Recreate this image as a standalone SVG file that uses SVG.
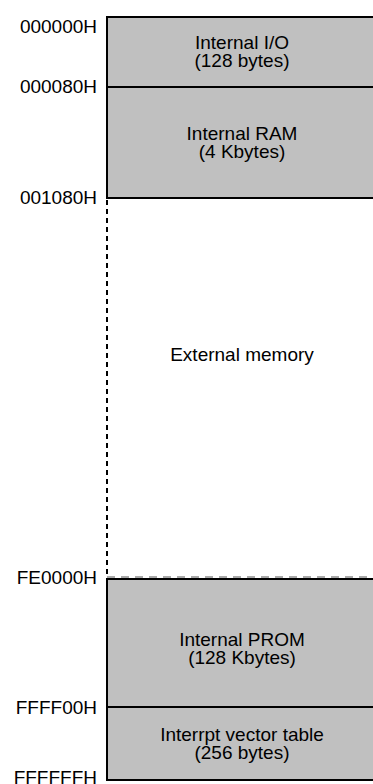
<svg xmlns="http://www.w3.org/2000/svg" width="373" height="784" viewBox="0 0 373 784">
<style>
.blk{fill:#c0c0c0;stroke:#000;stroke-width:2}
.t{font-family:"Liberation Sans",Arial,sans-serif;font-size:19px;fill:#000}
.c{text-anchor:middle}
.a{text-anchor:end}
.dash{stroke:#000;stroke-width:2;stroke-dasharray:5 4;fill:none}
</style>
<rect width="373" height="784" fill="#fff"/>
<g id="internal-io">
<rect class="blk" x="107" y="17" width="300" height="70"/>
<text class="t c" x="242" y="49">Internal I/O</text>
<text class="t c" x="242" y="67">(128 bytes)</text>
</g>
<g id="internal-ram">
<rect class="blk" x="107" y="87" width="300" height="111"/>
<text class="t c" x="242" y="140">Internal RAM</text>
<text class="t c" x="242" y="158">(4 Kbytes)</text>
</g>
<g id="external-memory">
<line class="dash" x1="107" y1="200" x2="107" y2="578"/>
<line x1="107" y1="577" x2="373" y2="577" stroke="#555" stroke-width="1" stroke-dasharray="8 6"/>
<text class="t c" x="242" y="361">External memory</text>
</g>
<g id="internal-prom">
<rect class="blk" x="107" y="579" width="300" height="128"/>
<text class="t c" x="242" y="646">Internal PROM</text>
<text class="t c" x="242" y="664">(128 Kbytes)</text>
</g>
<g id="vector-table">
<rect class="blk" x="107" y="707" width="300" height="73"/>
<text class="t c" x="242" y="741">Interrpt vector table</text>
<text class="t c" x="242" y="759">(256 bytes)</text>
</g>
<g id="addresses">
<text class="t a" x="97" y="33">000000H</text>
<text class="t a" x="97" y="93">000080H</text>
<text class="t a" x="97" y="204">001080H</text>
<text class="t a" x="97" y="584">FE0000H</text>
<text class="t a" x="97" y="714">FFFF00H</text>
<text class="t a" x="97" y="784">FFFFFFH</text>
</g>
<g id="connectors"></g>
</svg>
